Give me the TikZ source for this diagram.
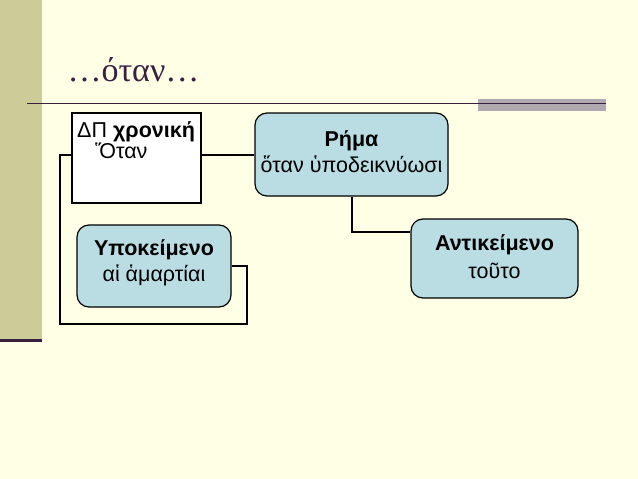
\documentclass[tikz,border=0pt]{standalone}
\usepackage{fontspec}
\setmainfont{Liberation Sans}
\newfontfamily\titlefont{Liberation Serif}
\definecolor{bg}{HTML}{FFFFE5}
\definecolor{olive}{HTML}{CCCC99}
\definecolor{plum}{HTML}{3A1F3F}
\definecolor{boxblue}{HTML}{B9DDE3}
\definecolor{greybar}{HTML}{B0AAB0}
\begin{document}
\begin{tikzpicture}[x=1pt,y=-1pt,
  rbox/.style={draw=black,fill=boxblue,rounded corners=12pt,line width=1.2pt,align=center,inner sep=0pt},
  conn/.style={draw=black,line width=1.6pt},
  txt/.style={font=\fontsize{21.5}{24}\selectfont}]
\useasboundingbox (0,0) rectangle (638,479);
\fill[bg] (0,0) rectangle (638,479);
\fill[olive] (0,0) rectangle (42,339);
\fill[plum] (0,339) rectangle (42,341.5);
\fill[greybar] (478,99) rectangle (606,111);
\draw[plum,line width=1.3pt] (27,103.5) -- (606,103.5);
\node[anchor=west,text=plum,font=\titlefont\fontsize{34}{36}\selectfont] (title) at (64,70) {…όταν…};
% boxes
\node[draw=black,fill=white,line width=1.2pt,minimum width=129pt,minimum height=90pt,inner sep=0pt] (dp) at (136.5,158) {};
\node[txt,anchor=north west,align=left,inner sep=0pt] (dpt) at (77,121) {ΔΠ \textbf{χρονική}\\[-3pt]\hspace*{18pt}Ὅταν};
\node[rbox,minimum width=193pt,minimum height=83pt] (rima) at (351.5,154.5) {};
\node[txt,font=\fontsize{21.5}{24}\selectfont\bfseries] (rt1) at (351.5,141) {Ρήμα};
\node[txt] (rt2) at (351.5,164) {ὅταν ὑποδεικνύωσι};
\node[rbox,minimum width=154pt,minimum height=82pt] (ypo) at (154,266) {};
\node[txt,font=\fontsize{21.5}{24}\selectfont\bfseries] (yt1) at (154,250) {Υποκείμενο};
\node[txt] (yt2) at (154,275) {αἱ ἁμαρτίαι};
\node[rbox,minimum width=167pt,minimum height=79pt] (anti) at (494.5,258.5) {};
\node[txt,font=\fontsize{21.5}{24}\selectfont\bfseries] (at1) at (494.5,245) {Αντικείμενο};
\node[txt] (at2) at (494.5,271) {τοῦτο};
% connectors
\coordinate (c1) at (60,155);
\coordinate (c2) at (60,324);
\coordinate (c3) at (247,324);
\coordinate (c4) at (247,266);
\draw[conn] (dp.east |- 0,155) -- (rima.west |- 0,155);
\draw[conn] (dp.west |- 0,155) -- (c1) -- (c2) -- (c3) -- (c4) -- (ypo.east |- c4);
\coordinate (c5) at (352,232);
\draw[conn] (rima.south -| c5) -- (c5) -- (anti.west |- c5);
\end{tikzpicture}
\end{document}
